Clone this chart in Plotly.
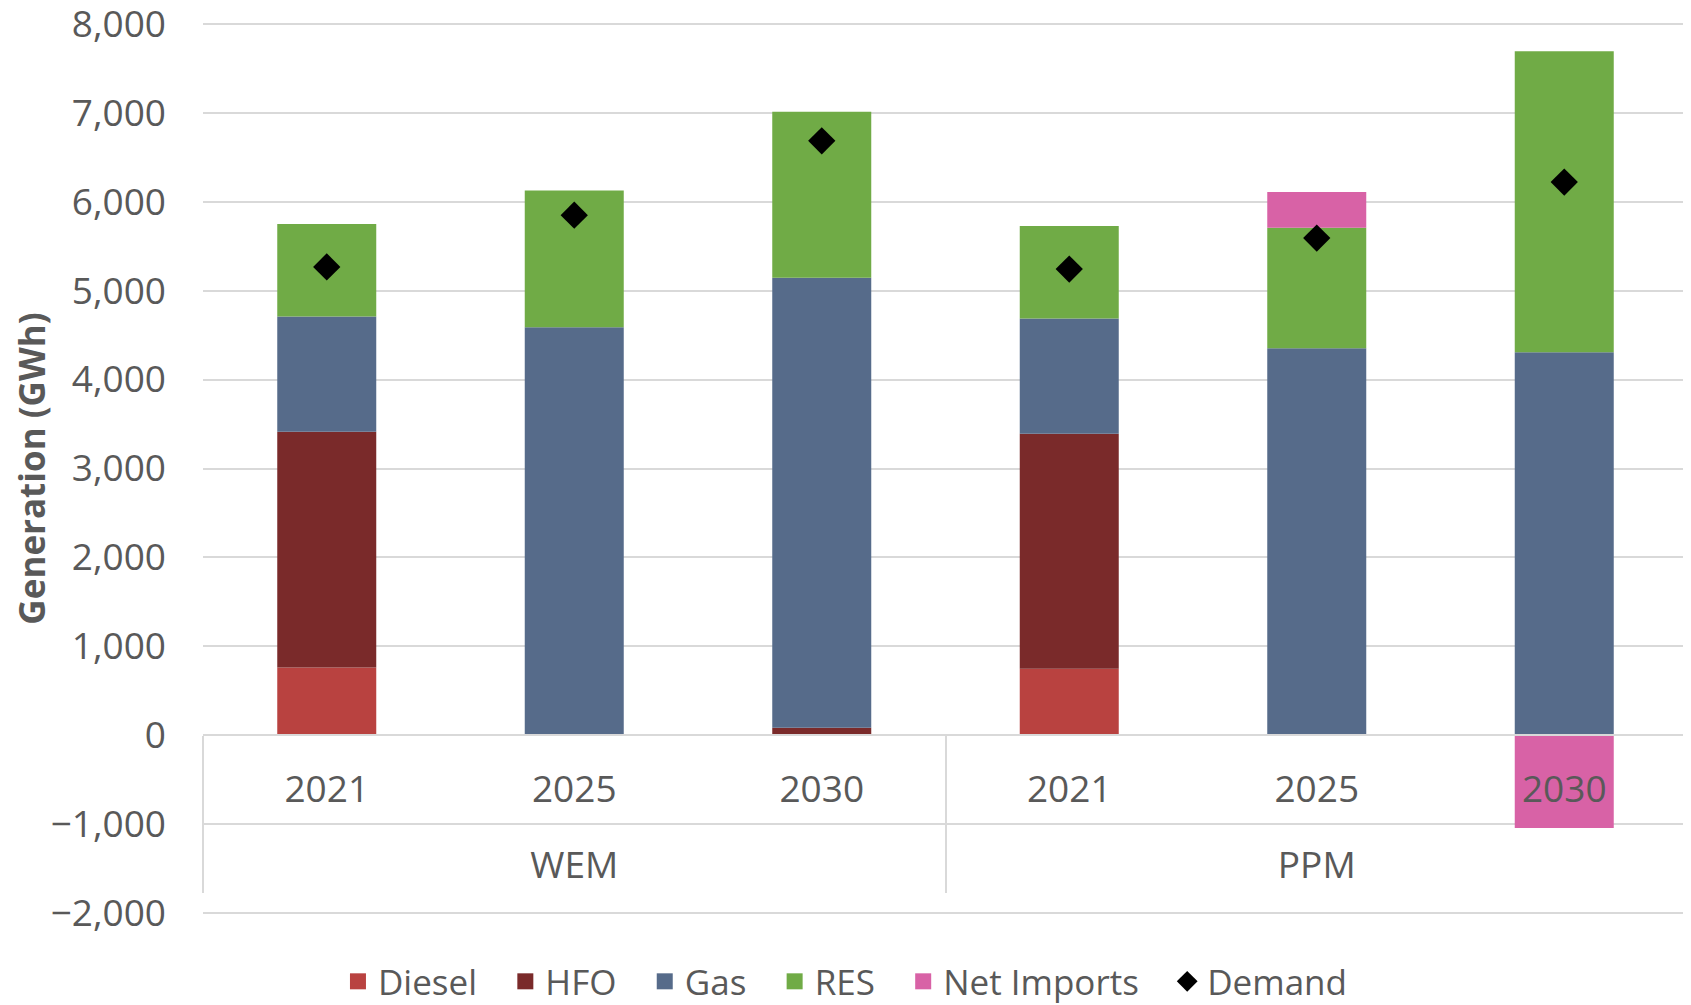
import plotly.graph_objects as go

# Categories
scenarios = ["WEM", "WEM", "WEM", "PPM", "PPM", "PPM"]
years = ["2021", "2025", "2030", "2021", "2025", "2030"]
groups = ["WEM", "PPM"]

# Generation by source (GWh)
diesel = [763, 0, 0, 750, 0, 0]
hfo = [2650, 0, 85, 2640, 0, 0]
gas = [1295, 4588, 5060, 1295, 4353, 4308]
res = [1040, 1538, 1865, 1041, 1353, 3382]
net_imports = [0, 0, 0, 0, 402, -1041]
demand = [5266, 5847, 6683, 5242, 5590, 6220]

TEXT = "#595959"
GRID = "#D9D9D9"
FONT = "Open Sans, DejaVu Sans, sans-serif"

Y_RANGE = [-2030, 8030]
ZERO_POS = (0 - Y_RANGE[0]) / (Y_RANGE[1] - Y_RANGE[0])

# one category per bar; years shown as tick text, scenarios on a second axis
cats = [f"{s} {y}" for s, y in zip(scenarios, years)]

fig = go.Figure()
series = [
    ("Diesel", diesel, "#B94240"),
    ("HFO", hfo, "#7A2A2A"),
    ("Gas", gas, "#566B8A"),
    ("RES", res, "#70AB46"),
    ("Net Imports", net_imports, "#D862A6"),
]
for name, vals, color in series:
    fig.add_trace(go.Bar(
        x=cats, y=vals, name=name, legendgroup=name, showlegend=False,
        marker=dict(color=color, line=dict(width=0)),
    ))
    # legend entry with a bigger square swatch
    fig.add_trace(go.Scatter(
        x=[None], y=[None], name=name + "\u2002\u2009", legendgroup=name,
        mode="markers", marker=dict(symbol="square", size=16, color=color),
    ))

fig.add_trace(go.Scatter(
    x=cats, y=demand, name="Demand", mode="markers",
    marker=dict(symbol="diamond", size=21, color="black"),
))

# empty traces so the scenario-label and divider axes get drawn
for ax in ["x2", "x3"]:
    fig.add_trace(go.Scatter(
        x=[None], y=[None], xaxis=ax, yaxis="y", mode="markers",
        showlegend=False, hoverinfo="skip",
    ))

# the page body adds an 8px margin, so the figure is 8px smaller
fig.update_layout(
    width=1683,
    height=997,
    barmode="relative",
    bargap=0.6,
    paper_bgcolor="white",
    plot_bgcolor="white",
    margin=dict(l=195, r=3, t=13, b=89, autoexpand=False),
    font=dict(family=FONT, color=TEXT, size=34),
    showlegend=True,
    legend=dict(
        orientation="h",
        xref="container", yref="container",
        x=0.4976, xanchor="center",
        y=0.0235, yanchor="middle",
        font=dict(family=FONT, size=35, color=TEXT),
        itemsizing="trace",
        traceorder="normal",
    ),
    xaxis=dict(
        type="category",
        anchor="free",
        position=ZERO_POS,
        tickmode="array",
        tickvals=cats,
        ticktext=years,
        ticks="",
        ticklabelstandoff=21,
        showline=True,
        linecolor=GRID,
        linewidth=1.5,
        showgrid=False,
        zeroline=False,
        automargin=False,
        layer="above traces",
        tickfont=dict(family=FONT, size=37, color=TEXT),
    ),
    # scenario labels
    xaxis2=dict(
        overlaying="x",
        anchor="free",
        position=ZERO_POS,
        range=[-0.5, 1.5],
        tickmode="array",
        tickvals=[0, 1],
        ticktext=groups,
        ticks="",
        ticklabelstandoff=105,
        showline=False,
        showgrid=False,
        zeroline=False,
        automargin=False,
        fixedrange=True,
        tickfont=dict(family=FONT, size=37, color=TEXT),
    ),
    # dividers between scenario groups
    xaxis3=dict(
        overlaying="x",
        anchor="free",
        position=ZERO_POS,
        range=[-0.5, 1.5],
        tickmode="array",
        tickvals=[-0.5, 0.5, 1.5],
        showticklabels=False,
        ticks="outside",
        ticklen=157,
        tickwidth=1.5,
        tickcolor=GRID,
        showline=False,
        showgrid=False,
        zeroline=False,
        automargin=False,
        fixedrange=True,
    ),
    yaxis=dict(
        range=Y_RANGE,
        tickmode="linear",
        tick0=0,
        dtick=1000,
        tickformat=",d",
        showgrid=True,
        gridcolor=GRID,
        gridwidth=1.5,
        zeroline=False,
        showline=False,
        ticks="",
        ticklabelstandoff=36,
        ticklabeloverflow="allow",
        automargin=False,
        tickfont=dict(family=FONT, size=37, color=TEXT),
        title=dict(
            text="<b>Generation (GWh)</b>",
            font=dict(family=FONT, size=35, color=TEXT),
            standoff=2,
        ),
    ),
)

fig.write_html("out.html")
